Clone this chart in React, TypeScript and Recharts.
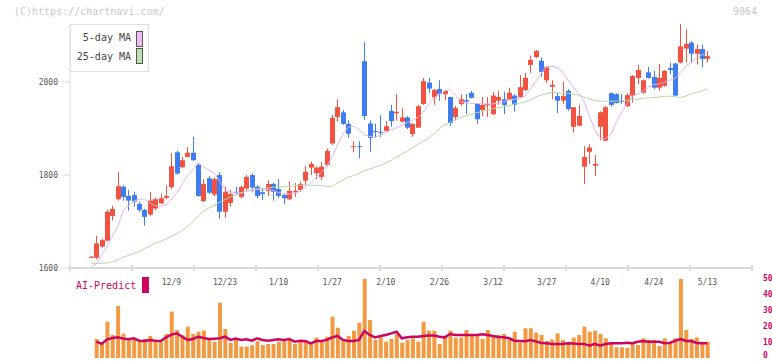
import { ComposedChart, Bar, Line, XAxis, YAxis } from 'recharts'

const dates = [
  '11/18', '11/19', '11/20', '11/21', '11/22', '11/25', '11/26', '11/27', '11/28', '11/29',
  '12/2', '12/3', '12/4', '12/5', '12/6', '12/9', '12/10', '12/11', '12/12', '12/13',
  '12/16', '12/17', '12/18', '12/19', '12/20', '12/23', '12/24', '12/25', '12/26', '12/27',
  '12/30', '1/6', '1/7', '1/8', '1/9', '1/10', '1/14', '1/15', '1/16', '1/17',
  '1/20', '1/21', '1/22', '1/23', '1/24', '1/27', '1/28', '1/29', '1/30', '1/31',
  '2/3', '2/4', '2/5', '2/6', '2/7', '2/10', '2/12', '2/13', '2/14', '2/17',
  '2/18', '2/19', '2/20', '2/21', '2/25', '2/26', '2/27', '2/28', '3/3', '3/4',
  '3/5', '3/6', '3/7', '3/10', '3/11', '3/12', '3/13', '3/14', '3/17', '3/18',
  '3/19', '3/21', '3/24', '3/25', '3/26', '3/27', '3/28', '3/31', '4/1', '4/2',
  '4/3', '4/4', '4/7', '4/8', '4/9', '4/10', '4/11', '4/14', '4/15', '4/16',
  '4/17', '4/18', '4/21', '4/22', '4/23', '4/24', '4/25', '4/28', '4/30', '5/1',
  '5/2', '5/7', '5/8', '5/9', '5/12', '5/13',
]

const labelDates = ['12/9', '12/23', '1/10', '1/27', '2/10', '2/26', '3/12', '3/27', '4/10', '4/24', '5/13']

const open = [
  1624, 1622, 1646, 1659, 1712, 1748, 1775, 1755, 1757, 1738,
  1725, 1715, 1728, 1739, 1751, 1774, 1849, 1817, 1839, 1848,
  1822, 1744, 1793, 1758, 1800, 1721, 1740, 1764, 1753, 1771,
  1800, 1775, 1763, 1766, 1781, 1770, 1757, 1748, 1763, 1768,
  1788, 1816, 1804, 1796, 1822, 1868, 1925, 1935, 1910, 1860,
  1862, 2045, 1911, 1895, 1893, 1895, 1938, 1933, 1915, 1924,
  1888, 1902, 1953, 1999, 1967, 1985, 1974, 1968, 1925, 1953,
  1961, 1977, 1953, 1940, 1950, 1931, 1960, 1963, 1963, 1971,
  1968, 1983, 2037, 2054, 2046, 2004, 1990, 1970, 1960, 1981,
  1904, 1906, 1818, 1850, 1820, 1904, 1874, 1976, 1974, 1961,
  1948, 1971, 2009, 1977, 2021, 2011, 1988, 1992, 2030, 2040,
  2042, 2072, 2085, 2061, 2071, 2050,
]
const high = [
  1626, 1669, 1663, 1725, 1734, 1806, 1778, 1768, 1764, 1742,
  1727, 1764, 1751, 1759, 1778, 1847, 1852, 1839, 1860, 1882,
  1824, 1791, 1798, 1795, 1806, 1775, 1768, 1775, 1778, 1800,
  1804, 1778, 1771, 1789, 1783, 1791, 1759, 1786, 1783, 1786,
  1819, 1829, 1819, 1828, 1857, 1929, 1963, 1940, 1918, 1873,
  1873, 2086, 1918, 1911, 1929, 1916, 1951, 1974, 1944, 1927,
  1911, 1951, 2009, 2009, 1986, 2004, 1983, 1968, 1949, 1974,
  1974, 1981, 1955, 1968, 1968, 1979, 1981, 1979, 1988, 1974,
  2015, 2020, 2057, 2069, 2053, 2034, 2004, 1977, 2001, 1985,
  1946, 1951, 1862, 1866, 1843, 1937, 1949, 1978, 1976, 1974,
  1976, 2015, 2037, 2006, 2033, 2024, 2039, 2026, 2042, 2041,
  2125, 2114, 2088, 2081, 2081, 2067,
]
const low = [
  1622, 1619, 1644, 1657, 1702, 1745, 1745, 1723, 1732, 1720,
  1691, 1712, 1725, 1738, 1748, 1770, 1801, 1815, 1838, 1830,
  1753, 1742, 1759, 1755, 1706, 1708, 1732, 1757, 1750, 1768,
  1764, 1750, 1746, 1755, 1745, 1750, 1737, 1746, 1753, 1764,
  1778, 1800, 1791, 1789, 1818, 1865, 1915, 1908, 1880, 1849,
  1836, 1918, 1850, 1880, 1882, 1893, 1904, 1917, 1914, 1899,
  1882, 1901, 1951, 1976, 1951, 1960, 1961, 1906, 1918, 1949,
  1931, 1965, 1910, 1927, 1925, 1929, 1951, 1931, 1961, 1936,
  1967, 1981, 2020, 2052, 2011, 1998, 1963, 1934, 1953, 1938,
  1891, 1905, 1781, 1824, 1798, 1875, 1873, 1947, 1954, 1953,
  1946, 1956, 1995, 1975, 2008, 1985, 1981, 1990, 2017, 1970,
  2040, 2042, 2041, 2038, 2031, 2042,
]
const close = [
  1624, 1653, 1660, 1721, 1727, 1776, 1753, 1745, 1743, 1725,
  1710, 1745, 1748, 1750, 1755, 1819, 1803, 1832, 1848, 1832,
  1755, 1781, 1762, 1791, 1721, 1764, 1759, 1761, 1774, 1796,
  1773, 1755, 1759, 1781, 1764, 1755, 1750, 1766, 1766, 1781,
  1807, 1824, 1816, 1818, 1852, 1923, 1946, 1910, 1889, 1862,
  1860, 1927, 1880, 1893, 1891, 1905, 1916, 1936, 1924, 1902,
  1910, 1948, 2002, 1986, 1983, 1974, 1981, 1912, 1944, 1963,
  1958, 1966, 1920, 1951, 1953, 1971, 1968, 1951, 1977, 1951,
  1989, 2009, 2048, 2067, 2022, 2032, 1994, 1960, 1970, 1942,
  1946, 1927, 1839, 1859, 1824, 1935, 1946, 1951, 1955, 1958,
  1972, 2013, 2026, 2004, 2009, 1988, 2009, 2024, 2026, 1971,
  2077, 2082, 2061, 2071, 2050, 2056,
]

const ma5 = [
  1600, 1609, 1628, 1646, 1669, 1690, 1723, 1735, 1744, 1748,
  1748, 1740, 1734, 1733, 1737, 1748, 1761, 1781, 1798, 1811,
  1826, 1817, 1811, 1804, 1787, 1768, 1763, 1762, 1762, 1765,
  1767, 1769, 1770, 1769, 1767, 1762, 1760, 1759, 1760, 1766,
  1774, 1783, 1796, 1806, 1819, 1839, 1865, 1888, 1903, 1905,
  1897, 1887, 1883, 1882, 1885, 1892, 1897, 1902, 1907, 1913,
  1918, 1924, 1935, 1953, 1966, 1974, 1981, 1984, 1972, 1958,
  1955, 1954, 1954, 1953, 1953, 1953, 1955, 1958, 1961, 1963,
  1965, 1970, 1985, 2002, 2019, 2033, 2034, 2031, 2022, 2004,
  1989, 1976, 1957, 1927, 1897, 1879, 1879, 1888, 1913, 1936,
  1953, 1970, 1974, 1980, 1989, 1995, 1996, 2000, 2004, 2008,
  2021, 2034, 2043, 2052, 2058, 2063,
]
const ma25 = [
  1610, 1610, 1610, 1611, 1613, 1618, 1623, 1627, 1631, 1635,
  1642, 1647, 1653, 1657, 1662, 1668, 1673, 1681, 1689, 1700,
  1712, 1723, 1729, 1735, 1742, 1747, 1753, 1757, 1761, 1766,
  1769, 1770, 1771, 1772, 1774, 1775, 1775, 1776, 1777, 1778,
  1778, 1778, 1778, 1777, 1776, 1776, 1784, 1789, 1795, 1799,
  1804, 1809, 1813, 1817, 1821, 1826, 1832, 1839, 1845, 1852,
  1859, 1866, 1873, 1880, 1889, 1901, 1908, 1913, 1919, 1924,
  1928, 1931, 1934, 1937, 1940, 1943, 1945, 1947, 1949, 1953,
  1954, 1958, 1962, 1968, 1972, 1975, 1978, 1977, 1976, 1976,
  1974, 1972, 1968, 1963, 1960, 1959, 1959, 1959, 1959, 1960,
  1961, 1962, 1963, 1965, 1966, 1967, 1968, 1969, 1970, 1968,
  1967, 1970, 1975, 1978, 1981, 1985,
]

const volume = [
  null, 11.9, 8.8, 22.7, 14.4, 32.5, 15.2, 11.9, 11.3, 10.2,
  11.9, 13.8, 10.2, 10.2, 15.0, 29.0, 17.5, 14.4, 19.6, 15.0,
  16.5, 17.1, 11.3, 10.2, 34.6, 18.1, 9.6, 11.9, 7.1, 7.1,
  8.0, 10.5, 8.1, 8.8, 8.8, 10.2, 11.3, 11.3, 8.8, 10.2,
  10.2, 9.4, 12.7, 10.2, 13.3, 25.8, 18.9, 10.8, 13.8, 17.1,
  22.1, 49.4, 23.8, 11.3, 12.9, 10.2, 11.9, 15.0, 9.6, 11.3,
  12.3, 10.2, 22.7, 17.1, 17.1, 8.8, 12.9, 17.1, 12.7, 12.9,
  17.5, 14.4, 14.4, 11.9, 17.5, 13.3, 14.4, 15.0, 11.3, 16.5,
  9.6, 18.6, 18.6, 15.8, 14.4, 10.6, 11.6, 15.4, 11.3, 9.8,
  12.7, 14.4, 19.6, 16.5, 17.1, 15.0, 12.3, 9.2, 6.7, 6.7,
  6.3, 8.8, 8.1, 12.3, 11.3, 11.3, 7.5, 12.3, 10.2, 12.3,
  49.4, 17.5, 11.9, 12.9, 10.2, 10.2,
]
const aiPredict = [
  null, 10.2, 8.8, 11.7, 12.5, 12.9, 12.1, 11.7, 12.3, 10.8,
  10.6, 11.3, 10.8, 10.6, 12.9, 14.6, 15.4, 13.3, 11.3, 11.9,
  13.3, 12.5, 11.9, 12.1, 12.3, 13.3, 11.3, 12.1, 11.3, 11.7,
  10.8, 12.3, 11.3, 10.8, 11.3, 11.7, 11.3, 11.9, 10.2, 10.8,
  10.6, 9.2, 10.6, 10.6, 11.3, 12.9, 13.8, 11.3, 10.6, 10.6,
  11.3, 16.9, 14.4, 12.9, 13.8, 14.4, 15.4, 16.5, 12.3, 12.9,
  13.3, 13.3, 13.8, 14.0, 14.0, 13.3, 12.9, 15.0, 14.4, 14.4,
  14.4, 14.4, 14.4, 14.8, 14.4, 13.8, 13.1, 12.9, 12.3, 10.8,
  10.6, 10.4, 11.3, 10.4, 9.4, 9.2, 8.8, 8.8, 8.8, 9.2,
  9.0, 8.8, 8.8, 7.7, 8.8, 7.7, 8.8, 9.2, 9.2, 9.2,
  9.6, 9.2, 10.2, 10.6, 10.2, 10.2, 10.2, 9.2, 9.4, 10.8,
  11.9, 10.6, 10.6, 9.4, 9.2, 9.2,
]

const UP = '#f2523f'
const DOWN = '#3d7df1'
const MA5_COLOR = '#e8b2ee'
const MA25_COLOR = '#b2daa6'
const VOL_COLOR = '#f29a41'
const AI_COLOR = '#cc0561'
const AXIS_COLOR = '#d9d9d9'
const MONO = '"DejaVu Sans Mono", monospace'

const X_DOMAIN: [number, number] = [-3.92, 123.32]
// evenly spaced tick marks along the bottom axis (11 segments)
const gridTicks = Array.from({ length: 12 }, (_, k) => X_DOMAIN[0] + (k * (X_DOMAIN[1] - X_DOMAIN[0])) / 11)
const labelTicks = labelDates.map((d) => dates.indexOf(d))

const data = dates.map((date, i) => ({
  i, date,
  open: open[i], high: high[i], low: low[i], close: close[i],
  range: [low[i], high[i]],
  ma5: ma5[i], ma25: ma25[i],
  vol: volume[i], ai: aiPredict[i],
}))

function Candle(props: any) {
  const { x, y, width, height, payload } = props
  if (x == null || y == null) return null
  const { open: o, close: c, high: h, low: l } = payload
  const color = c >= o ? UP : DOWN
  const span = h - l
  const py = (v: number) => (span > 0 ? y + ((h - v) / span) * height : y)
  const top = py(Math.max(o, c))
  const bot = py(Math.min(o, c))
  const cx = Math.round(x + width / 2) + 0.5
  return (
    <g>
      <line x1={cx} x2={cx} y1={y} y2={y + height} stroke={color} strokeWidth={1} />
      <rect x={cx - 2.5} y={top} width={5} height={Math.max(bot - top, 1)} fill={color} />
    </g>
  )
}

// right-hand volume scale labels, nudged up so the bottom "0" stays inside the frame
function VolTick(props: any) {
  const { x, y, payload } = props
  return (
    <text x={x} y={Math.min(y, 355)} dy="0.355em" textAnchor="start" fontSize={8} fontWeight="bold" fill={AI_COLOR} fontFamily={MONO}>
      {payload.value}
    </text>
  )
}

export default function App() {
  return (
    <div style={{ position: 'absolute', left: 0, top: 0, width: 772, height: 361, background: '#fff', overflow: 'hidden' }}>
      <div style={{ position: 'absolute', left: 0, top: 0 }}>
        <ComposedChart width={772} height={300} data={data} margin={{ top: 24, right: 20, bottom: 0, left: 0 }}>
          <XAxis
            xAxisId="a-grid" type="number" dataKey="i" domain={X_DOMAIN} allowDataOverflow
            ticks={gridTicks} interval={0} tickFormatter={() => ''} height={1}
            axisLine={{ stroke: AXIS_COLOR, strokeWidth: 2 }}
            tickLine={{ stroke: AXIS_COLOR, strokeWidth: 2, transform: 'translate(0,-3)' }}
            tickSize={6}
          />
          <XAxis
            xAxisId="b-date" type="number" dataKey="i" domain={X_DOMAIN} allowDataOverflow
            ticks={labelTicks} interval={0} tickFormatter={(v: number) => dates[v]} height={31}
            axisLine={false} tickLine={false} tickMargin={4}
            tick={{ fontSize: 8, fill: '#555', fontFamily: MONO }}
          />
          <YAxis
            domain={[1600, 2125]} allowDataOverflow ticks={[1600, 1800, 2000]} interval={0} width={70}
            axisLine={{ stroke: AXIS_COLOR }} tickLine={{ stroke: AXIS_COLOR }} tickSize={8} tickMargin={4}
            tick={{ fontSize: 8, fill: '#555', fontFamily: MONO }}
          />
          <Line xAxisId="b-date" dataKey="ma25" stroke={MA25_COLOR} strokeWidth={1} dot={false} isAnimationActive={false} />
          <Line xAxisId="b-date" dataKey="ma5" stroke={MA5_COLOR} strokeWidth={1} dot={false} isAnimationActive={false} />
          <Bar xAxisId="b-date" dataKey="range" barSize={5} shape={<Candle />} isAnimationActive={false} />
        </ComposedChart>
      </div>

      <div style={{ position: 'absolute', left: 0, top: 0 }}>
        <ComposedChart width={772} height={361} data={data} margin={{ top: 278, right: 0, bottom: 3, left: 70 }}>
          <XAxis type="number" dataKey="i" domain={X_DOMAIN} allowDataOverflow hide />
          <YAxis
            orientation="right" domain={[0, 50]} ticks={[0, 10, 20, 30, 40, 50]} interval={0} width={20}
            axisLine={false} tickLine={false} tickSize={6} tickMargin={5} tick={<VolTick />}
          />
          <Bar dataKey="vol" fill={VOL_COLOR} barSize={4} isAnimationActive={false} />
          <Line dataKey="ai" stroke={AI_COLOR} strokeWidth={2.5} dot={false} isAnimationActive={false} />
        </ComposedChart>
      </div>

      <div style={{ position: 'absolute', left: 14, top: 6, fontSize: 10, color: '#c8c8c8', fontFamily: MONO }}>
        (C)https://chartnavi.com/
      </div>
      <div style={{ position: 'absolute', left: 733, top: 6, fontSize: 10, color: '#c8c8c8', fontFamily: MONO }}>
        9064
      </div>

      {/* MA legend box */}
      <div style={{
        position: 'absolute', left: 70, top: 24, width: 77, height: 46, border: '1px solid #dedede',
        background: '#fff', fontFamily: MONO, fontSize: 10, color: '#444',
      }}>
        <div style={{ position: 'absolute', right: 17, top: 7, lineHeight: '12px' }}>5-day MA</div>
        <div style={{ position: 'absolute', left: 65, top: 6, width: 5, height: 14, background: '#f0bdf0', border: '1px solid #555' }} />
        <div style={{ position: 'absolute', right: 17, top: 26, lineHeight: '12px' }}>25-day MA</div>
        <div style={{ position: 'absolute', left: 65, top: 23, width: 5, height: 14, background: '#bfe0b2', border: '1px solid #555' }} />
      </div>

      <div style={{ position: 'absolute', left: 76, top: 280, fontSize: 10, lineHeight: '12px', color: AI_COLOR, fontFamily: MONO }}>
        AI-Predict
      </div>
      <div style={{ position: 'absolute', left: 142, top: 277, width: 7, height: 16, background: AI_COLOR }} />
    </div>
  )
}
